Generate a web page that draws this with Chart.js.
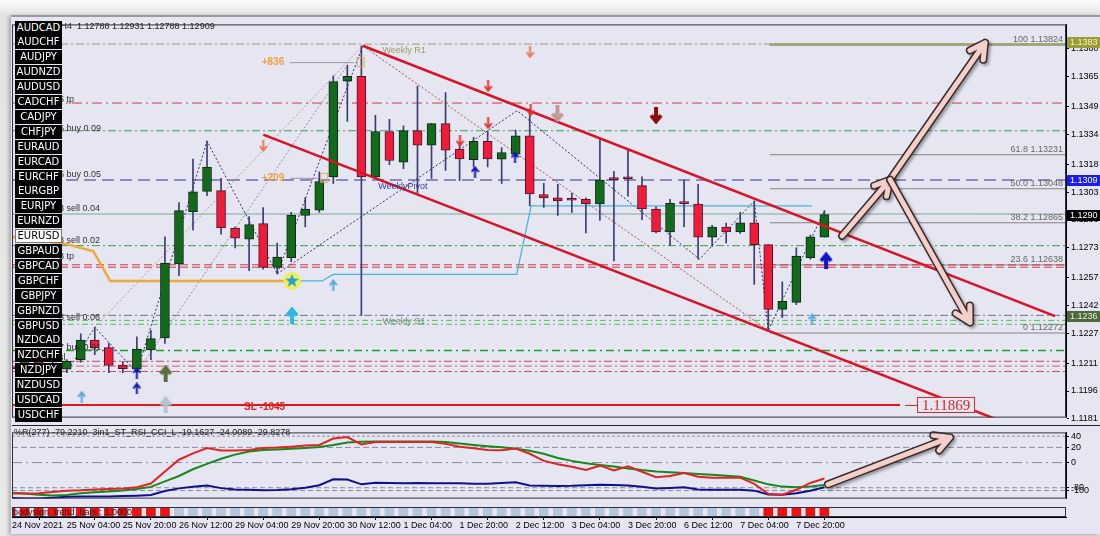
<!DOCTYPE html>
<html>
<head>
<meta charset="utf-8">
<script src="https://cdn.jsdelivr.net/npm/chart.js@4.4.1/dist/chart.umd.min.js"></script>
<style>
body { margin: 0; background: #ececec; }
#wrap { position: relative; width: 1100px; height: 536px; overflow: hidden; background: linear-gradient(#fcfcfc, #e4e4e4 15px, #e9e9e9); }
#win { position: absolute; left: 11px; top: 15px; width: 1089px; height: 517px; background: #e6e6f3; border-top: 2px solid #9a9aa4; box-shadow: -2px 1px 4px rgba(0,0,0,.3); }
canvas { position: absolute; left: 0; }
#cMain { top: 17px; }
#cInd { top: 425px; }
#cStrip { top: 505px; }
.btn { position: absolute; left: 15px; width: 47px; height: 14px; background: #000; color: #fff; font: 10px 'DejaVu Sans'; line-height: 14px; text-align: center; }
.btn.sel { background: #fff; color: #000; border: 1px solid #777; box-sizing: border-box; line-height: 12px; }
.txt { position: absolute; font: 9px 'Liberation Sans'; color: #202020; white-space: nowrap; }
</style>
</head>
<body>
<div id="wrap">
  <div id="win"></div>
  <canvas id="cMain" width="1100" height="408"></canvas>
  <canvas id="cInd" width="1100" height="81"></canvas>
  <canvas id="cStrip" width="1100" height="27"></canvas>
  <div class="txt" style="left:20px;top:21px">EURUSD,H4&nbsp; 1.12788 1.12931 1.12788 1.12909</div>
  <div class="txt" style="left:14px;top:427px">%R(277) -79.2210&nbsp; 3in1_ST_RSI_CCI_L -19.1627 -24.0089 -29.8278</div>
  <div class="txt" style="left:13px;top:507px">bodysign_trend_bars : 1.0000</div>
  <div id="btns"></div>
</div>
<script>
// ---- datos ----
const symbols = ['AUDCAD','AUDCHF','AUDJPY','AUDNZD','AUDUSD','CADCHF','CADJPY','CHFJPY','EURAUD','EURCAD',
  'EURCHF','EURGBP','EURJPY','EURNZD','EURUSD','GBPAUD','GBPCAD','GBPCHF','GBPJPY','GBPNZD','GBPUSD',
  'NZDCAD','NZDCHF','NZDJPY','NZDUSD','USDCAD','USDCHF'];

// velas H4, indice 0 = 24 Nov 08:00
const opens  = [1.12085,1.12080,1.12140,1.12110,1.12077,1.12129,1.12234,1.12193,1.12099,1.12077,
  1.12181,1.12246,1.12643,1.12925,1.13034,1.13038,1.12837,1.12777,1.12860,1.12625,
  1.12677,1.12904,1.12933,1.13112,1.13626,1.13652,1.13112,1.13356,1.13191,1.13361,
  1.13282,1.13398,1.13261,1.13204,1.13303,1.13207,1.13234,1.13333,1.13017,1.12999,
  1.12991,1.12991,1.12968,1.13104,1.13109,1.13065,1.12939,1.12816,1.12973,1.12965,
  1.12787,1.12842,1.12816,1.12865,1.12747,1.12399,1.12437,1.12677,1.12788];
const highs  = [1.12110,1.12150,1.12160,1.12135,1.12129,1.12268,1.12303,1.12216,1.12120,1.12251,
  1.12286,1.12790,1.12973,1.13208,1.13304,1.13104,1.12842,1.12898,1.12947,1.12756,
  1.12921,1.13000,1.13139,1.13655,1.13713,1.13817,1.13443,1.13421,1.13386,1.13600,
  1.13400,1.13565,1.13286,1.13325,1.13356,1.13269,1.13364,1.13478,1.13077,1.13072,
  1.13025,1.12999,1.13312,1.13142,1.13260,1.13112,1.12951,1.12991,1.13095,1.13072,
  1.12851,1.12863,1.12921,1.12982,1.12747,1.12547,1.12730,1.12799,1.12931];
const lows   = [1.12060,1.12070,1.12095,1.12080,1.12059,1.12115,1.12155,1.12059,1.12059,1.12059,
  1.12129,1.12216,1.12581,1.12825,1.13011,1.12804,1.12730,1.12608,1.12616,1.12590,
  1.12656,1.12842,1.12921,1.13076,1.13410,1.12366,1.13104,1.13177,1.13156,1.13025,
  1.13104,1.13147,1.13092,1.13165,1.13165,1.13077,1.13217,1.12956,1.12947,1.12904,
  1.12921,1.12811,1.12878,1.12660,1.13008,1.12881,1.12811,1.12742,1.12842,1.12669,
  1.12738,1.12756,1.12808,1.12533,1.12286,1.12355,1.12425,1.12669,1.12788];
const closes = [1.12080,1.12140,1.12110,1.12100,1.12120,1.12234,1.12193,1.12098,1.12080,1.12185,
  1.12242,1.12648,1.12930,1.13031,1.13165,1.12837,1.12782,1.12855,1.12625,1.12681,
  1.12907,1.12939,1.13086,1.13624,1.13652,1.13112,1.13356,1.13200,1.13361,1.13282,
  1.13398,1.13256,1.13209,1.13303,1.13209,1.13243,1.13333,1.13020,1.12999,1.12982,
  1.12986,1.12968,1.13095,1.13097,1.13102,1.12939,1.12816,1.12970,1.12968,1.12787,
  1.12842,1.12816,1.12865,1.12747,1.12399,1.12442,1.12686,1.12790,1.12909];

// eje de precios
const yTicks = [1.1380,1.1365,1.1349,1.1334,1.1318,1.1303,1.1288,1.1273,1.1257,1.1242,1.1227,1.1211,1.1196,1.1181];
const yMin = 1.11817, yMax = 1.13932;
const xMin = 0.1, xMax = 75.22;

// eje de tiempo
const xTickIdx = [0.1,4,8,12,16,20,24,28,32,36,40,44,48,52,56];
const xTickLabels = ['24 Nov 2021','25 Nov 04:00','25 Nov 20:00','26 Nov 12:00','29 Nov 04:00','29 Nov 20:00',
  '30 Nov 12:00','1 Dec 04:00','1 Dec 20:00','2 Dec 12:00','3 Dec 04:00','3 Dec 20:00','6 Dec 12:00',
  '7 Dec 04:00','7 Dec 20:00'];

// niveles horizontales (ordenes, tp, pivotes)
const levelPrices = [1.13826,1.13509,1.13360,1.13095,1.12912,1.12742,1.12639,1.12626,1.12367,1.12340,1.12319,1.12178,1.12120,1.12094,1.12065];
const slPrice = 1.11885, slEnd = 63.4;

// fibonacci
const fibPrices = [1.13824,1.13231,1.13048,1.12865,1.12638,1.12272];
const fibNames = ['100','61.8','50.0','38.2','23.6','0'];
const fibStart = 54.1;

// canal
const chanUpX = [25.1, 74.44], chanUpY = [1.13817, 1.12363];
const chanLoX = [18.01, 70.5], chanLoY = [1.13339, 1.11801];

// zigzags
const zzRedX = [25.1, 54.0], zzRedY = [1.13817, 1.12286];
const zzNavyX = [4, 6, 9, 14, 19, 25.1], zzNavyY = [1.12059, 1.12303, 1.12059, 1.13304, 1.12590, 1.13817];
const zzNavy2X = [19, 36.1, 49.1, 53, 54, 58], zzNavy2Y = [1.12590, 1.13468, 1.12669, 1.12982, 1.12286, 1.12930];
const zzFaintX = [6, 25.1], zzFaintY = [1.12303, 1.13817];
const zzFaint2X = [9, 24], zzFaint2Y = [1.12059, 1.13713];

// lineas de stop
const cyanX = [20.06, 22.2, 23.0, 36.07, 37.1, 57.1], cyanY = [1.12552, 1.12552, 1.12587, 1.12587, 1.12956, 1.12956];
const orangeX = [0.1, 4.0, 5.9, 7.1, 20.06], orangeY = [1.12790, 1.12750, 1.12712, 1.12552, 1.12552];
const starX = [20.06], starY = [1.12552];

// flechas
const blueUpX = [9, 9, 33.1, 35.95], blueUpY = [1.12058, 1.11974, 1.13139, 1.13217];
const blueBigX = [58.12], blueBigY = [1.12660];
const ltBlueX = [5.07, 23.0, 57.12], ltBlueY = [1.11929, 1.12529, 1.12346];
const cyanUpX = [20.06], cyanUpY = [1.12366];
const oliveUpX = [11.05], oliveUpY = [1.12052];
const paleUpX = [11.05], paleUpY = [1.11885];
const redDnX = [32.03, 34.03, 34.03, 37.07], redDnY = [1.13306, 1.13400, 1.13600, 1.13469];
const salmonDnX = [37.02, 18.01], salmonDnY = [1.13782, 1.13278];
const pinkDnX = [38.97], pinkDnY = [1.13452];
const darkDnX = [46.0], darkDnY = [1.13443];

// indicador (escala interna del panel 0..79)
const indRed = [6,6,6.5,8,9.5,10,11,11.5,12,13.5,18,32.4,46.4,54,60.4,57.5,57.4,58,60.4,61,
  62,63.3,64,71.7,73.5,64.6,67.5,67.5,67.5,67.5,67.5,65.5,62,60,58,57.6,59.7,53.5,45,41,
  38,34.3,39.3,33.5,38.5,32,25.5,27,30.5,26,25,25,25,17.5,5.7,4.6,10.5,18.7,24];
const indGreen = [7,6,4.5,3.6,4.2,6.3,7.5,8.5,9.6,11.5,14,20.5,27,35,41.5,47.6,52.5,56.3,58,58.6,
  59.4,60.4,61.5,64,67,67.8,68,68.2,68.2,68.2,68,67.5,65.8,64,62.5,61.2,59.5,57,53.5,48.5,
  45,42.1,40.2,38.2,36,34,32.4,31.5,30.6,29.5,28.5,27.3,26,21.5,17,14.3,13.6,14.5,16.2];
const indNavy = [0.8,0.2,0,1,2.3,2.5,2.5,2.5,3,3.5,4.2,9,12.2,14,15.5,12.5,11,10.6,10,10.2,
  11.2,13,16,23,22.7,17,19,18.5,18.3,18.5,18.3,18.3,18.3,17.7,17.8,18.5,19.4,15.7,15.2,15,
  15.2,15.8,16.4,16.2,15.5,14,12,12.7,13.5,10.8,10.7,10.7,10.7,9.5,4.8,4.6,6.5,9.3,13.5];
const indLevels = [74.5, 61.1, 43, 13, 9.6];
const indLabels = ['40', '20', '0', '-80', '-100'];

// barra de tendencia: 1 = rojo, 0 = gris
const stripSignal = [1,1,1,1,1,1,1,1,1,1,1,1,0,0,0,0,0,0,0,0,
  0,0,0,0,0,0,0,0,0,0,0,0,0,0,0,0,0,0,0,0,
  0,0,0,0,0,0,0,0,0,0,0,0,0,0,1,1,1,1,1];

// ---- estilos ----
const levelLook = [
  ['#9a9a78', 1, [8,3,2,3]], ['#cc3c44', 1, [10,4,2,4]], ['#4a9c5c', 1, [8,3,2,3]], ['#30308c', 1.2, [12,6]],
  ['#7aa898', 1, []], ['#3c9c4c', 1, [8,3,2,3]], ['#d03848', 1, [8,4]], ['#d03848', 1, [8,4]],
  ['#70708a', 1, [8,3,2,3]], ['#4cc060', 1, [6,3,2,3]], ['#4cc060', 1, [6,3,2,3]], ['#2a9a2a', 1.6, [8,4,2,4]],
  ['#c04458', 1, [8,3,2,3]], ['#d06474', 1, [8,3,2,3]], ['#c84c60', 1, [8,3,2,3]]
];
const plotBg = '#e6e6f3';

Chart.defaults.font.family = 'Liberation Sans';
Chart.defaults.font.size = 9;
Chart.defaults.color = '#000';
Chart.defaults.animation = false;
Chart.defaults.plugins.legend.display = false;
Chart.defaults.plugins.tooltip.enabled = false;

// botones de simbolos
const btns = document.getElementById('btns');
symbols.forEach((s, i) => {
  const d = document.createElement('div');
  d.className = 'btn' + (s === 'EURUSD' ? ' sel' : '');
  d.style.top = Math.round(20.5 + 14.9 * i) + 'px';
  d.textContent = s;
  btns.appendChild(d);
});

function seg(xs, ys) { return xs.map((x, k) => ({x: x, y: ys[k]})); }
function lineDs(data, color, width, dash, order) {
  return {type: 'line', data: data, borderColor: color, borderWidth: width, borderDash: dash || [],
    pointRadius: 0, fill: false, tension: 0, order: order === undefined ? 8 : order};
}

function arrowImg(color, up, big) {
  const w = big ? 14 : 9, h = big ? 17 : 12, lw = big ? 4 : 2;
  const c = document.createElement('canvas'); c.width = w; c.height = h;
  const g = c.getContext('2d');
  if (!up) { g.translate(0, h); g.scale(1, -1); }
  g.strokeStyle = color; g.lineWidth = lw;
  g.beginPath(); g.moveTo(w / 2, h); g.lineTo(w / 2, lw);
  g.moveTo(lw / 2, h * 0.5); g.lineTo(w / 2, lw / 2 + 0.5); g.lineTo(w - lw / 2, h * 0.5);
  g.stroke();
  return c;
}
function starImg() {
  const c = document.createElement('canvas'); c.width = 20; c.height = 20;
  const g = c.getContext('2d');
  g.fillStyle = 'rgba(240,240,70,0.9)'; g.beginPath(); g.arc(10, 10, 9, 0, Math.PI * 2); g.fill();
  g.fillStyle = '#22a8d8'; g.beginPath();
  for (let k = 0; k < 10; k++) {
    const r = k % 2 ? 3 : 7, a = -Math.PI / 2 + k * Math.PI / 5;
    g.lineTo(10 + r * Math.cos(a), 10 + r * Math.sin(a));
  }
  g.fill();
  return c;
}
function markDs(xs, ys, img) {
  return {type: 'line', data: seg(xs, ys), showLine: false, pointStyle: img, pointRadius: 6, order: 0};
}

// velas
const bull = [], bear = [], wick = [];
opens.forEach((o, i) => {
  wick.push({x: i, y: [lows[i], highs[i]]});
  (closes[i] >= o ? bull : bear).push({x: i, y: [o, closes[i]]});
});

const datasets = [];
levelPrices.forEach((p, k) => {
  const lk = levelLook[k];
  datasets.push(lineDs(seg([xMin, xMax], [p, p]), lk[0], lk[1], lk[2], 9));
});
datasets.push(lineDs(seg([xMin, slEnd], [slPrice, slPrice]), '#e01818', 2, [], 9));
fibPrices.forEach((p, k) => {
  datasets.push(lineDs(seg([fibStart, xMax], [p, p]), k === 0 ? '#a6aa80' : '#858585', k === 0 ? 3 : 1, [], 9));
});
datasets.push(lineDs(seg(zzFaintX, zzFaintY), '#c09090', 1, [2, 2], 7));
datasets.push(lineDs(seg(zzFaint2X, zzFaint2Y), '#9090a8', 1, [2, 2], 7));
datasets.push(lineDs(seg(zzRedX, zzRedY), '#c04848', 1, [2, 2], 7));
datasets.push(lineDs(seg(zzNavyX, zzNavyY), '#303068', 1, [2, 2], 7));
datasets.push(lineDs(seg(zzNavy2X, zzNavy2Y), '#303068', 1, [2, 2], 7));
datasets.push(lineDs(seg(cyanX, cyanY), '#48b4d8', 1.3, [], 6));
datasets.push(lineDs(seg(orangeX, orangeY), '#f0a838', 2.5, [], 6));
datasets.push({type: 'bar', data: wick, backgroundColor: '#3c3c70', barThickness: 1, borderWidth: 0, grouped: false, order: 5});
datasets.push({type: 'bar', data: bull, backgroundColor: '#136a1c', borderColor: '#0a2a12', borderWidth: 1,
  borderSkipped: false, barThickness: 9, minBarLength: 2, grouped: false, order: 4});
datasets.push({type: 'bar', data: bear, backgroundColor: '#ee1c3a', borderColor: '#4a1430', borderWidth: 1,
  borderSkipped: false, barThickness: 9, minBarLength: 2, grouped: false, order: 4});
datasets.push(lineDs(seg(chanUpX, chanUpY), '#d81424', 2.5, [], 3));
datasets.push(lineDs(seg(chanLoX, chanLoY), '#d81424', 2.5, [], 3));
datasets.push(markDs(starX, starY, starImg()));
datasets.push(markDs(blueUpX, blueUpY, arrowImg('#1414b4', true, false)));
datasets.push(markDs(blueBigX, blueBigY, arrowImg('#1414c8', true, true)));
datasets.push(markDs(ltBlueX, ltBlueY, arrowImg('#58a8e0', true, false)));
datasets.push(markDs(cyanUpX, cyanUpY, arrowImg('#30b8e0', true, true)));
datasets.push(markDs(oliveUpX, oliveUpY, arrowImg('#5c6c3c', true, true)));
datasets.push(markDs(paleUpX, paleUpY, arrowImg('#b8c2d4', true, true)));
datasets.push(markDs(redDnX, redDnY, arrowImg('#e83030', false, false)));
datasets.push(markDs(salmonDnX, salmonDnY, arrowImg('#ea7a52', false, false)));
datasets.push(markDs(pinkDnX, pinkDnY, arrowImg('#c09a9a', false, true)));
datasets.push(markDs(darkDnX, darkDnY, arrowImg('#8a0c0c', false, true)));

function txt(ctx, s, x, y, color, font, align) {
  ctx.fillStyle = color; ctx.font = font; ctx.textAlign = align || 'left'; ctx.textBaseline = 'middle';
  ctx.fillText(s, x, y);
}
function bigArrow(ctx, x1, y1, x2, y2) {
  const ang = Math.atan2(y2 - y1, x2 - x1), L = 17, sp = 0.5;
  const w1 = [x2 - L * Math.cos(ang - sp), y2 - L * Math.sin(ang - sp)];
  const w2 = [x2 - L * Math.cos(ang + sp), y2 - L * Math.sin(ang + sp)];
  const path = () => {
    ctx.beginPath(); ctx.moveTo(x1, y1); ctx.lineTo(x2, y2);
    ctx.moveTo(w1[0], w1[1]); ctx.lineTo(x2, y2); ctx.lineTo(w2[0], w2[1]);
  };
  ctx.save(); ctx.lineCap = 'round'; ctx.lineJoin = 'round';
  ctx.shadowColor = 'rgba(0,0,0,0.35)'; ctx.shadowBlur = 3; ctx.shadowOffsetX = 2; ctx.shadowOffsetY = 2;
  path(); ctx.strokeStyle = '#3a2a2a'; ctx.lineWidth = 8; ctx.stroke();
  ctx.shadowColor = 'transparent';
  path(); ctx.strokeStyle = '#f2cfc8'; ctx.lineWidth = 5; ctx.stroke();
  ctx.restore();
}
function frame(c) {
  const {ctx, chartArea: a} = c;
  ctx.save(); ctx.strokeStyle = '#303040'; ctx.lineWidth = 1;
  ctx.strokeRect(a.left + 0.5, a.top + 0.5, a.right - a.left - 1, a.bottom - a.top - 1);
  ctx.restore();
}
function fillBg(c) {
  const {ctx, chartArea: a} = c;
  ctx.save(); ctx.fillStyle = plotBg; ctx.fillRect(a.left, a.top, a.right - a.left, a.bottom - a.top); ctx.restore();
}

const mainDeco = {
  id: 'mainDeco',
  beforeDraw: fillBg,
  afterDatasetsDraw(c) {
    const ctx = c.ctx, X = v => c.scales.x.getPixelForValue(v), Y = v => c.scales.y.getPixelForValue(v);
    const a = c.chartArea;
    ctx.save();
    ctx.beginPath(); ctx.rect(a.left, a.top, a.right - a.left, a.bottom - a.top); ctx.clip();
    // etiquetas de ordenes (casi ocultas por los botones)
    [['5 tp', 1.13530], ['5 buy 0.09', 1.13374], ['5 buy 0.05', 1.13123], ['8 sell 0.04', 1.12940],
     ['8 sell 0.02', 1.12768], ['8 tp', 1.12684], ['8 sell 0.06', 1.12355], ['7 buy 0.01', 1.12193], ['sl', 1.12140]]
      .forEach(t => txt(ctx, t[0], X(3.45), Y(t[1]), '#303030', '9px Liberation Sans'));
    // beneficios
    [['+836', 1.13729, 24.5], ['+209', 1.13107, 21.9]].forEach(t => {
      txt(ctx, t[0], X(18.7), Y(t[1]), '#f0a040', 'bold 10px Liberation Sans', 'center');
      ctx.strokeStyle = '#9a9aa4'; ctx.lineWidth = 1;
      ctx.beginPath(); ctx.moveTo(X(19.9), Y(t[1]) + 0.5); ctx.lineTo(X(t[2]), Y(t[1]) + 0.5); ctx.stroke();
      ctx.strokeStyle = '#e8a848'; ctx.strokeRect(X(t[2] + 0.2), Y(t[1]) - 4.5, 7, 9);
    });
    txt(ctx, 'Weekly R1', X(26.5), Y(1.13791), '#a09868', '9px Liberation Sans');
    txt(ctx, 'WeeklyPivot', X(26.2), Y(1.13060), '#3838a0', '9px Liberation Sans');
    txt(ctx, 'Weekly S1', X(26.5), Y(1.12334), '#7a8a7a', '9px Liberation Sans');
    txt(ctx, 'SL -1045', X(18.1), Y(1.11870), '#e02020', 'bold 10px Liberation Sans', 'center');
    // fibonacci
    fibPrices.forEach((p, k) => {
      txt(ctx, fibNames[k] + ' ' + p.toFixed(5), a.right - 3, Y(p) - 5, '#666', '9px Liberation Sans', 'right');
    });
    // etiqueta de precio
    const bx = X(66.67), by = Y(slPrice);
    ctx.strokeStyle = '#d02828'; ctx.lineWidth = 1;
    ctx.beginPath(); ctx.moveTo(bx - 41, by + 0.5); ctx.lineTo(bx - 29, by + 0.5); ctx.stroke();
    ctx.fillStyle = plotBg; ctx.fillRect(bx - 29, by - 8, 58, 16);
    ctx.strokeRect(bx - 28.5, by - 7.5, 57, 15);
    txt(ctx, '1.11869', bx, by + 1, '#d02828', '15px Liberation Serif', 'center');
    // flechas grandes
    bigArrow(ctx, X(59.26), Y(1.12794), X(62.68), Y(1.13097));
    bigArrow(ctx, X(62.68), Y(1.13097), X(69.45), Y(1.13833));
    bigArrow(ctx, X(62.68), Y(1.13097), X(68.38), Y(1.12329));
    ctx.restore();
  },
  afterDraw(c) {
    frame(c);
    const ctx = c.ctx, Y = v => c.scales.y.getPixelForValue(v), a = c.chartArea;
    [[1.1383, '#9c9c34', '#f4f4c8'], [1.1309, '#1c1cf0', '#ffffff'], [1.1290, '#000000', '#ffffff'], [1.1236, '#4c6a3c', '#e8f0e0']]
      .forEach(h => {
        const y = Math.round(Y(h[0]));
        ctx.fillStyle = h[1]; ctx.fillRect(a.right + 1, y - 6, 33, 11);
        txt(ctx, h[0].toFixed(4), a.right + 4, y, h[2], '9px Liberation Sans');
      });
  }
};

new Chart(document.getElementById('cMain'), {
  type: 'bar',
  data: {datasets: datasets},
  options: {
    responsive: false, devicePixelRatio: 1,
    layout: {padding: {left: 12, top: 1, bottom: 2, right: 0}},
    scales: {
      x: {type: 'linear', min: xMin, max: xMax, offset: false, display: false},
      y: {
        position: 'right', min: yMin, max: yMax,
        afterBuildTicks: s => { s.ticks = yTicks.map(v => ({value: v})); },
        afterFit: s => { s.width = 34; },
        ticks: {callback: v => v.toFixed(4), padding: 2, color: '#000'},
        grid: {drawOnChartArea: false, tickLength: 3, color: '#000'},
        border: {color: '#000'}
      }
    }
  },
  plugins: [mainDeco]
});

// ---- indicador ----
const idxs = indRed.map((v, i) => i);
const indDs = [];
const indDash = [[3, 2], [6, 3], [10, 4, 2, 4], [5, 3], [5, 3]];
indLevels.forEach((l, k) => indDs.push(lineDs(seg([xMin, xMax], [l, l]), '#8a8aa2', 1, indDash[k], 9)));
indDs.push(lineDs(seg(idxs, indNavy), '#10108c', 2, [], 3));
indDs.push(lineDs(seg(idxs, indGreen), '#16881c', 2, [], 2));
indDs.push(lineDs(seg(idxs, indRed), '#e02424', 2, [], 1));

const indDeco = {
  id: 'indDeco',
  beforeDraw: fillBg,
  afterDatasetsDraw(c) {
    const X = v => c.scales.x.getPixelForValue(v), Y = v => c.scales.y.getPixelForValue(v);
    bigArrow(c.ctx, X(58.26), Y(17), X(66.96), Y(73));
  },
  afterDraw(c) {
    frame(c);
    const {ctx, chartArea: a} = c;
    ctx.save(); ctx.strokeStyle = '#202030'; ctx.lineWidth = 1;
    ctx.beginPath(); ctx.moveTo(a.left, 0.5); ctx.lineTo(1100, 0.5); ctx.stroke();
    ctx.restore();
  }
};

new Chart(document.getElementById('cInd'), {
  type: 'line',
  data: {datasets: indDs},
  options: {
    responsive: false, devicePixelRatio: 1,
    layout: {padding: {left: 12, top: 1, bottom: 1, right: 0}},
    scales: {
      x: {type: 'linear', min: xMin, max: xMax, display: false},
      y: {
        position: 'right', min: 0, max: 79,
        afterBuildTicks: s => { s.ticks = indLevels.map(v => ({value: v})); },
        afterFit: s => { s.width = 34; },
        ticks: {callback: (v, i) => indLabels[i], padding: 2, color: '#000'},
        grid: {drawOnChartArea: false, tickLength: 3, color: '#000'},
        border: {color: '#000'}
      }
    }
  },
  plugins: [indDeco]
});

// ---- barra de tendencia + eje de tiempo ----
new Chart(document.getElementById('cStrip'), {
  type: 'bar',
  data: {datasets: [{
    data: stripSignal.map((s, i) => ({x: i, y: 1})),
    backgroundColor: ctx => stripSignal[ctx.dataIndex] ? '#e81414' : '#b6c6da',
    barThickness: 9, grouped: false
  }]},
  options: {
    responsive: false, devicePixelRatio: 1,
    layout: {padding: {left: 12, top: 2, bottom: 0, right: 34}},
    scales: {
      x: {
        type: 'linear', min: xMin, max: xMax, offset: false,
        afterBuildTicks: s => { s.ticks = xTickIdx.map(v => ({value: v})); },
        afterFit: s => { s.height = 15; },
        ticks: {callback: (v, i) => xTickLabels[i], align: 'start', maxRotation: 0, autoSkip: false, padding: 0, color: '#000'},
        grid: {drawOnChartArea: false, tickLength: 3, color: '#000'},
        border: {color: '#000'}
      },
      y: {min: 0, max: 1.15, display: false}
    }
  },
  plugins: [{id: 'stripDeco', beforeDraw: fillBg, afterDraw: frame}]
});
</script>
</body>
</html>
